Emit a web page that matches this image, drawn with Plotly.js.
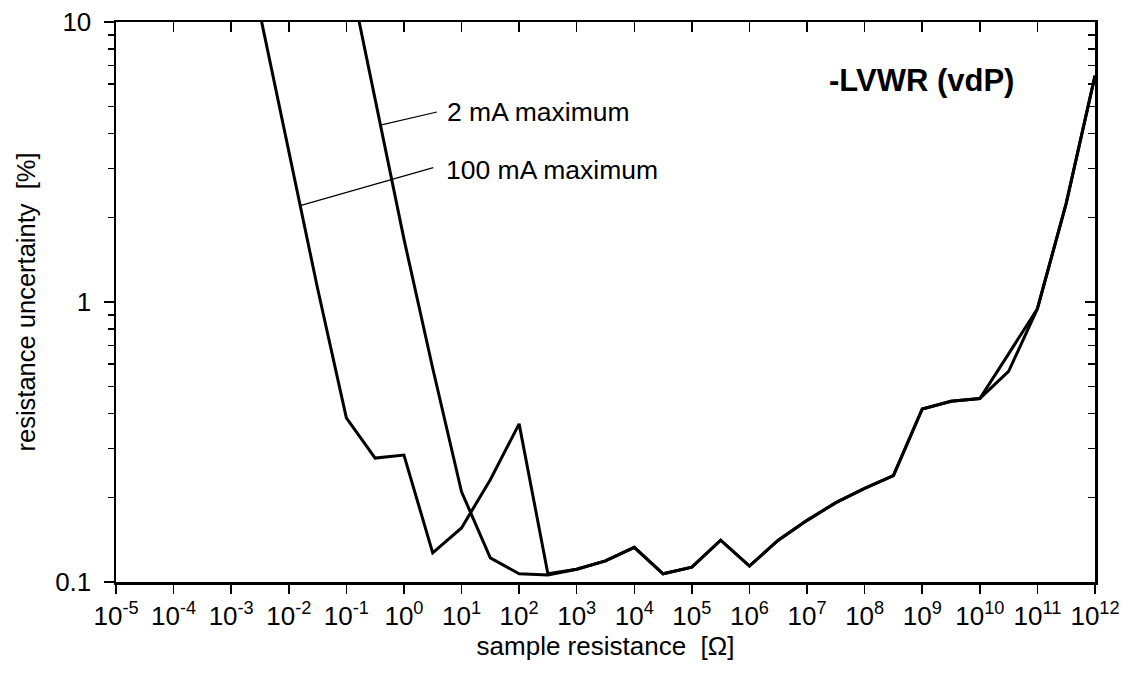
<!DOCTYPE html>
<html>
<head>
<meta charset="utf-8">
<script src="https://cdn.plot.ly/plotly-3.0.1.min.js"></script>
<style>
  html, body { margin: 0; padding: 0; background: #ffffff; }
  #chart { width: 1123px; height: 681px; }
</style>
</head>
<body>
<div id="chart"></div>
<script>
// Sample resistance [Ohm] (half-decade steps)
const resistance100mA = [0.00316, 0.01, 0.0316, 0.1, 0.316, 1, 3.16, 10, 31.6, 100, 316,
  1e3, 3.16e3, 1e4, 3.16e4, 1e5, 3.16e5, 1e6, 3.16e6, 1e7, 3.16e7, 1e8, 3.16e8,
  1e9, 3.16e9, 1e10, 3.16e10, 1e11, 3.16e11, 1e12];
const uncertainty100mA = [10.7, 3.46, 1.12, 0.386, 0.277, 0.284, 0.127, 0.156, 0.232, 0.367, 0.107,
  0.111, 0.119, 0.133, 0.107, 0.113, 0.141, 0.114, 0.141, 0.166, 0.192, 0.216, 0.240,
  0.415, 0.442, 0.452, 0.565, 0.946, 2.25, 6.43];

const resistance2mA = [0.1, 0.316, 1, 3.16, 10, 31.6, 100, 316,
  1e3, 3.16e3, 1e4, 3.16e4, 1e5, 3.16e5, 1e6, 3.16e6, 1e7, 3.16e7, 1e8, 3.16e8,
  1e9, 3.16e9, 1e10, 3.16e10, 1e11, 3.16e11, 1e12];
const uncertainty2mA = [16.7, 5.3, 1.68, 0.58, 0.21, 0.122, 0.107, 0.106,
  0.111, 0.119, 0.133, 0.107, 0.113, 0.141, 0.114, 0.141, 0.166, 0.192, 0.216, 0.240,
  0.415, 0.442, 0.452, 0.653, 0.946, 2.25, 6.43];

// Tick labels
const xExponents = [-5, -4, -3, -2, -1, 0, 1, 2, 3, 4, 5, 6, 7, 8, 9, 10, 11, 12];
const xTickVals = xExponents.map(e => Math.pow(10, e));
const xTickText = xExponents.map(e => '10<sup>' + e + '</sup>');
const yTickVals = [0.1, 1, 10];
const yTickText = ['0.1', '1', '10'];

// Label texts and leader lines (resistance, uncertainty)
const labelTexts = ['2 mA maximum', '100 mA maximum'];
const leader2mA = {r: [0.391, 3.74], u: [4.28, 4.77]};
const leader100mA = {r: [0.0158, 3.23], u: [2.21, 3.02]};

const FONT = 'Liberation Sans, Arial, Helvetica, sans-serif';
const lineStyle = {color: '#000000', width: 3};

const traces = [
  {x: resistance100mA, y: uncertainty100mA, type: 'scatter', mode: 'lines',
   name: '100 mA maximum', line: lineStyle, hoverinfo: 'x+y'},
  {x: resistance2mA, y: uncertainty2mA, type: 'scatter', mode: 'lines',
   name: '2 mA maximum', line: lineStyle, hoverinfo: 'x+y'},
  {x: [], y: [], xaxis: 'x2', yaxis: 'y2', type: 'scatter', mode: 'lines',
   showlegend: false, hoverinfo: 'skip'}
];

const axisCommon = {
  type: 'log',
  showgrid: false,
  zeroline: false,
  showline: true,
  linecolor: '#000000',
  linewidth: 2.5,
  tickcolor: '#000000',
  tickwidth: 1.5,
  tickfont: {family: FONT, size: 26, color: '#000000'}
};

const layout = {
  width: 1123,
  height: 681,
  margin: {l: 116, r: 28, t: 22, b: 99},
  paper_bgcolor: '#ffffff',
  plot_bgcolor: '#ffffff',
  showlegend: false,
  font: {family: FONT, color: '#000000'},
  xaxis: Object.assign({}, axisCommon, {
    range: [-5, 12],
    tickvals: xTickVals,
    ticktext: xTickText,
    ticks: 'outside',
    ticklen: 9,
    automargin: false,
    title: {text: 'sample resistance  [Ω]', font: {family: FONT, size: 26, color: '#000000'}, standoff: 5}
  }),
  xaxis2: Object.assign({}, axisCommon, {
    overlaying: 'x',
    side: 'top',
    anchor: 'y',
    range: [-5, 12],
    tickvals: xTickVals,
    ticks: 'inside',
    ticklen: 10,
    showticklabels: false
  }),
  yaxis: Object.assign({}, axisCommon, {
    range: [-1, 1],
    tickvals: yTickVals,
    ticktext: yTickText,
    ticks: 'outside',
    ticklen: 10,
    ticklabelstandoff: 7,
    automargin: false,
    minor: {ticks: 'outside', ticklen: 6, dtick: 'D1', tickcolor: '#000000', tickwidth: 1.5, showgrid: false},
    title: {text: 'resistance uncertainty  [%]', font: {family: FONT, size: 25.5, color: '#000000'}, standoff: 12}
  }),
  yaxis2: Object.assign({}, axisCommon, {
    overlaying: 'y',
    side: 'right',
    anchor: 'x',
    range: [-1, 1],
    tickvals: yTickVals,
    ticks: 'inside',
    ticklen: 10,
    showticklabels: false,
    minor: {ticks: 'inside', ticklen: 7, dtick: 'D1', tickcolor: '#000000', tickwidth: 1.5, showgrid: false}
  }),
  shapes: [
    {type: 'line', xref: 'x', yref: 'y', x0: leader2mA.r[0], x1: leader2mA.r[1],
     y0: leader2mA.u[0], y1: leader2mA.u[1], line: {color: '#000000', width: 1.2}},
    {type: 'line', xref: 'x', yref: 'y', x0: leader100mA.r[0], x1: leader100mA.r[1],
     y0: leader100mA.u[0], y1: leader100mA.u[1], line: {color: '#000000', width: 1.2}}
  ],
  annotations: [
    {text: '<b>-LVWR (vdP)</b>', xref: 'paper', yref: 'paper', x: 0.726, y: 0.895,
     xanchor: 'left', yanchor: 'middle', showarrow: false,
     font: {family: FONT, size: 31, color: '#000000'}},
    {text: labelTexts[0], xref: 'paper', yref: 'paper', x: 0.336, y: 0.839,
     xanchor: 'left', yanchor: 'middle', showarrow: false,
     font: {family: FONT, size: 26.5, color: '#000000'}},
    {text: labelTexts[1], xref: 'paper', yref: 'paper', x: 0.335, y: 0.736,
     xanchor: 'left', yanchor: 'middle', showarrow: false,
     font: {family: FONT, size: 26.5, color: '#000000'}}
  ]
};

Plotly.newPlot('chart', traces, layout, {displayModeBar: false, staticPlot: true});
</script>
</body>
</html>
